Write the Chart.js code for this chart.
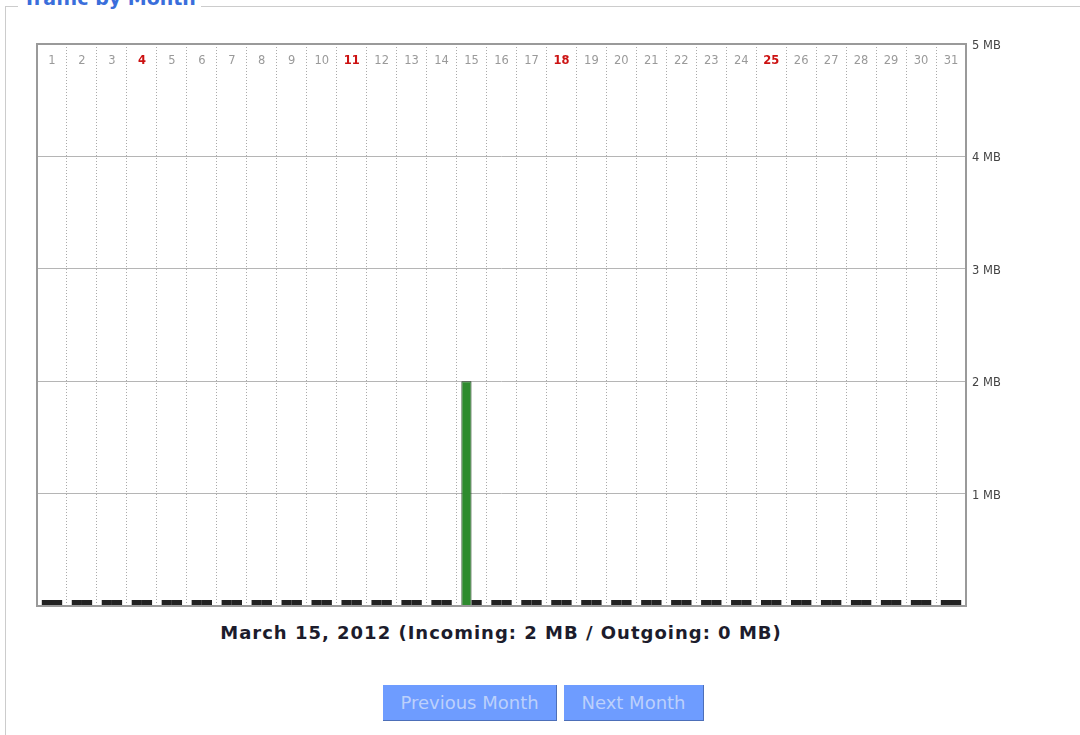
<!DOCTYPE html>
<html>
<head>
<meta charset="utf-8">
<script src="https://cdn.jsdelivr.net/npm/chart.js@4/dist/chart.umd.min.js"></script>
<style>
  body { margin: 0; background: #fff; width: 1080px; height: 735px; overflow: hidden; position: relative; font-family: "DejaVu Sans", sans-serif; }
  .box { position: absolute; left: 5px; top: 6px; width: 1100px; height: 760px; border: 1px solid #ccc; }
  .legend { position: absolute; left: 12px; top: -19px; padding: 0 5px; background: #fff; color: #3a6edb; font: bold 19px "DejaVu Sans", sans-serif; line-height: 20px; }
  .wrap { position: absolute; left: 0; top: 0; width: 1040px; height: 620px; }
  .caption { position: absolute; left: 0; width: 1002px; top: 622px; text-align: center; font: bold 18px "DejaVu Sans", sans-serif; letter-spacing: 1px; color: #1c1c2c; }
  .btns { position: absolute; top: 685px; left: 383px; }
  .btn { display: inline-block; height: 35px; background: #6e9cff; color: #bcd0fb; font: 18px "DejaVu Sans", sans-serif; line-height: 35px; border-right: 1px solid #4d6fb8; border-bottom: 1px solid #4d6fb8; text-align: center; margin-right: 7px; vertical-align: top; }
</style>
</head>
<body>
<div class="box"><span class="legend">Traffic by Month</span></div>
<div class="wrap"><canvas id="grafico"></canvas></div>
<div class="caption">March 15, 2012 (Incoming: 2 MB / Outgoing: 0 MB)</div>
<div class="btns"><span class="btn" style="width:173px">Previous Month</span><span class="btn" style="width:139px">Next Month</span></div>
<script>
// days of March 2012
const days = ['1','2','3','4','5','6','7','8','9','10','11','12','13','14','15','16','17','18','19','20','21','22','23','24','25','26','27','28','29','30','31'];
const sundays = ['4', '11', '18', '25'];

// MB per day
const incoming = [0,0,0,0,0,0,0,0,0,0,0,0,0,0,2,0,0,0,0,0,0,0,0,0,0,0,0,0,0,0,0];
const outgoing = [0,0,0,0,0,0,0,0,0,0,0,0,0,0,0,0,0,0,0,0,0,0,0,0,0,0,0,0,0,0,0];

const yTicks = [1, 2, 3, 4, 5];
const unit = 'MB';
const yMax = 5;

const barColor = (ctx) => ctx.raw > 0 ? '#2e8b2e' : '#222';
const barBorder = (ctx) => ctx.raw > 0 ? 1 : 0;

const frame = {
    id: 'frame',
    afterDraw(chart) {
        const a = chart.chartArea;
        const c = chart.ctx;
        c.save();
        c.strokeStyle = '#9a9a9a';
        c.lineWidth = 2;
        c.strokeRect(a.left, a.top, a.right - a.left, a.bottom - a.top);
        c.restore();
    }
};

const canvas = document.getElementById('grafico');
new Chart(canvas, {
    type: 'bar',
    data: {
        labels: days,
        datasets: [
            { label: 'Incoming', data: incoming, backgroundColor: barColor, borderColor: '#163816', borderWidth: barBorder, minBarLength: 6 },
            { label: 'Outgoing', data: outgoing, backgroundColor: barColor, borderColor: '#163816', borderWidth: barBorder, minBarLength: 6 }
        ]
    },
    options: {
        responsive: true,
        maintainAspectRatio: false,
        animation: false,
        layout: { padding: { left: 37, right: 14, top: 44, bottom: 14 } },
        datasets: { bar: { categoryPercentage: 0.68, barPercentage: 1 } },
        plugins: { legend: { display: false }, tooltip: { enabled: false } },
        scales: {
            x: {
                position: { y: yMax },
                offset: true,
                grid: { offset: true, color: '#aaa', lineWidth: 1, drawTicks: false },
                border: { display: false, dash: [1, 2] },
                ticks: {
                    padding: 10,
                    maxRotation: 0,
                    autoSkip: false,
                    color: (ctx) => sundays.includes(days[ctx.index]) ? '#cc1111' : '#9a9a9a',
                    font: (ctx) => ({ family: 'DejaVu Sans', size: 11.5, weight: sundays.includes(days[ctx.index]) ? 'bold' : 'normal' })
                }
            },
            y: {
                position: 'right',
                min: 0,
                max: yMax,
                afterFit: (scale) => { scale.width = 60; },
                grid: { color: '#b5b5b5', lineWidth: 1, drawTicks: false },
                border: { display: false },
                ticks: {
                    stepSize: 1,
                    padding: 6,
                    labelOffset: 2,
                    color: '#444',
                    font: { family: 'DejaVu Sans', size: 11.5 },
                    callback: (v) => yTicks.includes(v) ? v + ' ' + unit : ''
                }
            }
        }
    },
    plugins: [frame]
});
</script>
</body>
</html>
